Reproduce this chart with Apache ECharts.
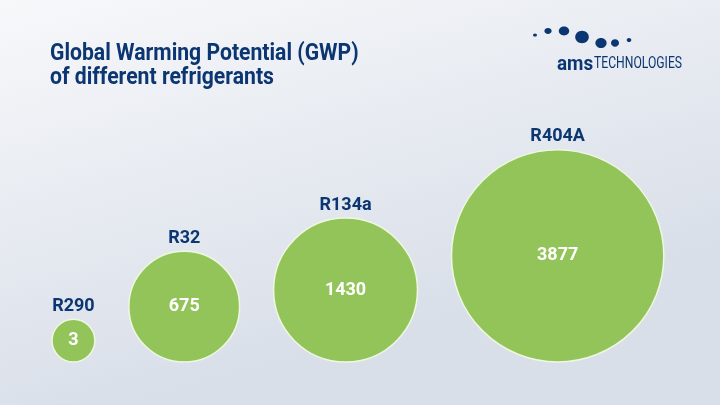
<!DOCTYPE html>
<html>
<head>
<meta charset="utf-8">
<script src="https://cdn.jsdelivr.net/npm/echarts@6/dist/echarts.min.js"></script>
<style>
  html, body { margin: 0; padding: 0; }
  #chart { width: 720px; height: 405px; }
</style>
</head>
<body>
<div id="chart"></div>
<script>
// GWP of refrigerants
var refrigerants = ['R290', 'R32', 'R134a', 'R404A'];
var gwpValues = [3, 675, 1430, 3877];

var titleLines = ['Global Warming Potential (GWP)', 'of different refrigerants'];

var font = 'Roboto, "Noto Sans", sans-serif';
var navy = '#0b3672';

// bubble diameter grows with sqrt of the value
function diameter(v) {
  return 38 + 2.8 * Math.sqrt(v);
}

// pack bubbles left to right, sitting on a common baseline
var startX = 52, gap = 34, baseY = 362;
var points = [];
var cursor = startX;
for (var i = 0; i < gwpValues.length; i++) {
  var r = diameter(gwpValues[i]) / 2;
  points.push({
    name: refrigerants[i],
    value: [cursor + r, baseY - r, gwpValues[i]]
  });
  cursor += 2 * r + gap;
}

var chart = echarts.init(document.getElementById('chart'));

var logoDots = [
  [535, 35, 2, 1.6], [548, 31, 3.6, 2.9], [564, 31, 5.2, 4.4],
  [582, 37, 6.8, 6.2], [601, 43, 5.6, 5.1], [615, 43, 4, 3.7], [629, 40, 2.3, 2.1]
];

var graphics = logoDots.map(function (d) {
  return {
    type: 'ellipse',
    shape: { cx: d[0], cy: d[1], rx: d[2], ry: d[3] },
    style: { fill: navy }
  };
});

graphics.push({
  type: 'text', x: 557, y: 54, scaleX: 0.9,
  style: { text: 'ams', font: 'bold 21px ' + font, fill: navy, verticalAlign: 'top' }
});
graphics.push({
  type: 'text', x: 594, y: 56, scaleX: 0.76,
  style: { text: 'TECHNOLOGIES', font: '16px ' + font, fill: navy, verticalAlign: 'top' }
});

titleLines.forEach(function (line, k) {
  graphics.push({
    type: 'text', x: 50, y: 43 + k * 24, scaleX: 0.92,
    style: { text: line, font: 'bold 23px ' + font, fill: navy, verticalAlign: 'top' }
  });
});

var option = {
  backgroundColor: {
    type: 'linear', x: 0, y: 0, x2: 0.15, y2: 1,
    colorStops: [
      { offset: 0, color: '#f7f8fa' },
      { offset: 1, color: '#d9dfe9' }
    ]
  },
  grid: { left: 0, right: 0, top: 0, bottom: 0 },
  xAxis: { type: 'value', min: 0, max: 720, show: false },
  yAxis: { type: 'value', min: 0, max: 405, inverse: true, show: false },
  graphic: graphics,
  series: [
    {
      type: 'scatter',
      data: points,
      silent: true,
      symbolSize: function (val) { return diameter(val[2]); },
      itemStyle: {
        color: '#93c45a',
        borderColor: '#eef7df',
        borderWidth: 1.5,
        opacity: 1
      },
      label: {
        show: true,
        position: 'inside',
        formatter: function (p) { return p.value[2]; },
        fontFamily: font,
        fontWeight: 'bold',
        fontSize: 18,
        color: '#ffffff'
      },
      z: 2
    },
    {
      type: 'scatter',
      data: points,
      silent: true,
      symbolSize: function (val) { return diameter(val[2]); },
      itemStyle: { color: 'transparent', borderWidth: 0, opacity: 1 },
      label: {
        show: true,
        position: 'top',
        distance: 4,
        formatter: '{b}',
        fontFamily: font,
        fontWeight: 'bold',
        fontSize: 18,
        color: navy,
        opacity: 1,
        textBorderWidth: 0
      },
      z: 3
    }
  ]
};

chart.setOption(option);
</script>
</body>
</html>
